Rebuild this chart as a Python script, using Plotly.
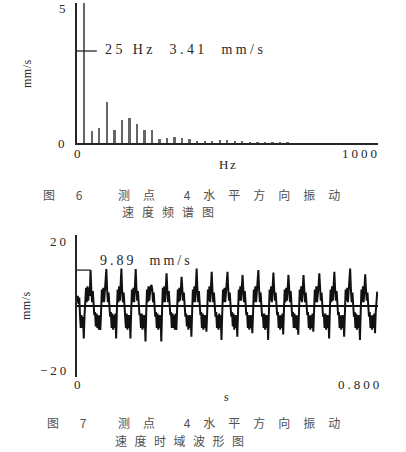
import numpy as np
import plotly.graph_objects as go

# ---------------- data ----------------
# Fig 6: velocity spectrum (harmonics of 25 Hz), mm/s
spec_freq_hz = [25, 50, 75, 100, 125, 150, 175, 200, 225, 250, 275, 300, 325, 350,
                375, 400, 425, 450, 475, 500, 525, 550, 575, 600, 625, 650, 675, 700]
spec_amp = [5.2, 0.44, 0.57, 1.53, 0.48, 0.85, 0.94, 0.69, 0.48, 0.48, 0.14, 0.17, 0.23, 0.17,
            0.14, 0.07, 0.05, 0.05, 0.11, 0.11, 0.05, 0.04, 0.03, 0.03, 0.02, 0.02, 0.02, 0.01]
spec_peak_label = "25 Hz  3.41  mm/s"
spec_peak_value = 3.41
spec_xticks = ["0", "1000"]
spec_yticks = ["5", "0"]

# Fig 7: velocity time waveform, mm/s, one sample every 2 ms (read cycle by cycle)
wave_dt = 0.002
wave_start = [1, 3, 0.5, 2.5, -3, -7, -3, -7, -3.5, -10.2, -3, 1, 5.5, 1, 6, 1.5, 5.5, 3]
wave_c00 = [11, 5, 1, 4.5, 0, -3, -2, -6.5, -2.5, -7, -3, -7.5, -3, -7.6, -2, 5, 1, 5.5, 1, 5, 6]
wave_c01 = [11.3, 5, 1, 4, -0.5, -3.5, -2, -7, -2.5, -7.5, -3, -7, -2.5, -10.2, -1.5, 5, 1, 6, 1.5, 5.5]
wave_c02 = [11.5, 4.5, 1, 4, -1, -4, -7, -2.5, -7.5, -3, -7, -3, -10.2, -2, 5, 1, 5.5, 1, 5.5]
wave_c03 = [11.3, 5, 1.5, 4.5, 0, -3, -2.5, -7, -2.5, -7.5, -3, -7, -3, -11.2, -2.5, 5, 1, 6, 1.5, 5, 6]
wave_c04 = [6.4, 5, 1, 4, 0, -3.5, -2, -7, -2.5, -7.5, -3, -7, -3, -11.2, -2, 5.5, 1, 6, 1, 5.5]
wave_c05 = [10, 5, 1, 4.5, -0.5, -3, -2, -7, -2.5, -7, -3, -7.5, -2.5, -7.6, -1.5, 5, 1, 5.5, 1.5, 5.5]
wave_c06 = [8.9, 5, 1.5, 4, 0, -3.5, -2.5, -6.5, -3, -7.5, -3, -7, -3, -9.7, -2, 5, 1, 6, 1, 6]
wave_c07 = [11.5, 5, 1, 4.5, 0.5, -3, -2, -7, -2.5, -7.5, -3, -7, -3, -8.1, -2, 5, 1.5, 6, 1, 5.5]
wave_c08 = [10.5, 4.5, 1, 4, 0, -3.5, -2, -7, -3, -7.5, -2.5, -7, -3, -10.7, -2.5, 5, 1, 5.5, 1, 5.5, 6]
wave_c09 = [10.5, 5, 1.5, 4, -0.5, -3.5, -2, -6.5, -2.5, -7.5, -3, -7, -3, -9.7, -2, 5, 1.5, 6, 1.5, 5.8]
wave_c10 = [9.5, 5, 1, 4.5, 0, -3, -2, -7, -3, -7.5, -3, -7, -3, -8.6, -2, 5, 1, 6, 1, 5, 6]
wave_c11 = [11, 5, 1, 4, 0, -3.5, -2.5, -7, -2.5, -7.5, -3, -7, -3, -10.7, -2, 5, 1.5, 6, 1, 5.5]
wave_c12 = [10.2, 5, 1.5, 4, 0.5, -3, -2, -7, -3, -7.5, -3, -7, -2.5, -9, -1.5, 5, 1, 5.5, 1.5, 5.5]
wave_c13 = [9.5, 5, 1, 4.5, 0, -3.5, -2, -7, -2.5, -7, -3, -7.5, -3, -9.1, -2, 5, 1.5, 6, 1, 5.5]
wave_c14 = [9.5, 5, 1, 4, -0.5, -3, -2, -7, -3, -7.5, -3, -7, -2.5, -8.1, -2, 5, 1, 6, 1, 5.5, 6]
wave_c15 = [10, 5, 1.5, 4, 0, -3.5, -2.5, -7, -2.5, -7.5, -3, -7, -3, -10.2, -2, 5, 1, 6, 1.5, 5.5]
wave_c16 = [10.5, 5, 1.5, 4.5, 0.5, -3, -2, -7, -3, -7.5, -3, -7, -3, -9.7, -2.5, 5, 1.5, 5.5, 1, 5.5, 6]
wave_c17 = [11.5, 5, 1, 4, 0, -3.5, -2, -7, -2.5, -7.5, -3, -7, -3, -10.7, -2, 5, 1, 6, 1, 5.5]
wave_c18 = [9.7, 5, 1.5, 4, 0, -3.5, -2, -7, -3, -7.5, -3, -7, -2.5, -8.6, -2, 2, 4.3]
wave_peak_label = "9.89  mm/s"
wave_marker_level = 11.0
wave_marker_time = 0.036
wave_xticks = ["0", "0.800"]
wave_yticks = ["20", "\u221220"]

cap6_a, cap6_b, cap6_c = "图 6", "测点 4水平方向振动", "速度频谱图"
cap7_a, cap7_b, cap7_c = "图 7", "测点 4水平方向振动", "速度时域波形图"

wave_vals = (wave_start + wave_c00 + wave_c01 + wave_c02 + wave_c03 + wave_c04 + wave_c05
             + wave_c06 + wave_c07 + wave_c08 + wave_c09 + wave_c10 + wave_c11 + wave_c12
             + wave_c13 + wave_c14 + wave_c15 + wave_c16 + wave_c17 + wave_c18)
wave_t = np.arange(len(wave_vals)) * wave_dt

# ---------------- figure ----------------
W, H = 406, 452
def px(x):
    return x / W
def py(y):
    return 1 - y / H

SERIF = "Liberation Serif"
CJK = "Noto Sans CJK SC"
INK = "#262626"

def sp(text, s):
    return f"<span style='letter-spacing:{s}px'>{text}</span>"

fig = go.Figure()
fig.add_trace(go.Bar(x=spec_freq_hz, y=spec_amp, width=6, marker_color="#666666",
                     marker_line_width=0, xaxis="x", yaxis="y", showlegend=False))
fig.add_trace(go.Scatter(x=wave_t, y=wave_vals, mode="lines",
                         line=dict(color="#111111", width=2.0),
                         xaxis="x2", yaxis="y2", showlegend=False))

axis_common = dict(showgrid=False, showticklabels=False, ticks="", zeroline=False)
fig.update_layout(
    width=W, height=H, margin=dict(l=0, r=0, t=0, b=0),
    paper_bgcolor="white", plot_bgcolor="white", bargap=0,
    xaxis=dict(domain=[px(77), px(378)], range=[0, 1000], anchor="y",
               showline=True, linecolor=INK, linewidth=1.5, **axis_common),
    yaxis=dict(domain=[py(143), py(3)], range=[0, 5.19], anchor="x",
               showline=True, linecolor=INK, linewidth=1.5, **axis_common),
    xaxis2=dict(domain=[px(77), px(378)], range=[0, 0.8], anchor="y2",
                showline=False, **axis_common),
    yaxis2=dict(domain=[py(377), py(235)], range=[-22.2, 21.9], anchor="x2",
                showline=True, linecolor=INK, linewidth=1.5,
                showgrid=False, showticklabels=False, ticks="",
                zeroline=True, zerolinecolor="#111", zerolinewidth=1.6),
)

# marker lines
fig.add_shape(type="line", xref="x", yref="y", x0=0, x1=66,
              y0=spec_peak_value, y1=spec_peak_value, line=dict(color=INK, width=1.3))
fig.add_shape(type="line", xref="x2", yref="y2", x0=0, x1=wave_marker_time,
              y0=wave_marker_level, y1=wave_marker_level, line=dict(color=INK, width=1.3))

ann = []
def txt(x, y, text, size, font=SERIF, color=INK, xanchor="center", angle=0):
    ann.append(dict(x=px(x), y=py(y), xref="paper", yref="paper", text=text,
                    showarrow=False, xanchor=xanchor, yanchor="middle", textangle=angle,
                    borderpad=0, font=dict(family=font, size=size, color=color)))

# spectrum labels
txt(62, 9, spec_yticks[0], 13)
txt(61, 143, spec_yticks[1], 13)
txt(77, 153, spec_xticks[0], 13)
txt(381, 153, sp(spec_xticks[1], 3), 13, xanchor="right")
txt(228, 165, sp("Hz", 1.5), 13)
txt(27, 74, sp("mm/s", 0.5), 12, angle=-90)
txt(104, 49, sp(spec_peak_label, 3.4), 14, xanchor="left")

# waveform labels
txt(70, 241, sp(wave_yticks[0], 3), 13, xanchor="right")
txt(70, 370, sp(wave_yticks[1], 3), 13, xanchor="right")
txt(77, 384, wave_xticks[0], 13)
txt(383, 384, sp(wave_xticks[1], 3), 13, xanchor="right")
txt(226, 397, "s", 12)
txt(26, 306, sp("mm/s", 0.5), 12, angle=-90)
txt(99, 260, sp(wave_peak_label, 3), 14, xanchor="left")

# captions
CAP = "#505050"
txt(42, 195, sp(cap6_a, 9), 12, font=CJK, color=CAP, xanchor="left")
txt(117, 195, sp(cap6_b, 13), 12, font=CJK, color=CAP, xanchor="left")
txt(121, 211, sp(cap6_c, 8), 12, font=CJK, color=CAP, xanchor="left")
txt(46, 422, sp(cap7_a, 9), 12, font=CJK, color=CAP, xanchor="left")
txt(117, 422, sp(cap7_b, 13), 12, font=CJK, color=CAP, xanchor="left")
txt(114, 440, sp(cap7_c, 7.5), 12, font=CJK, color=CAP, xanchor="left")

fig.update_layout(annotations=ann)
fig.write_html("out.html", config={"displayModeBar": False},
               post_script="document.body.style.margin='0px';")
